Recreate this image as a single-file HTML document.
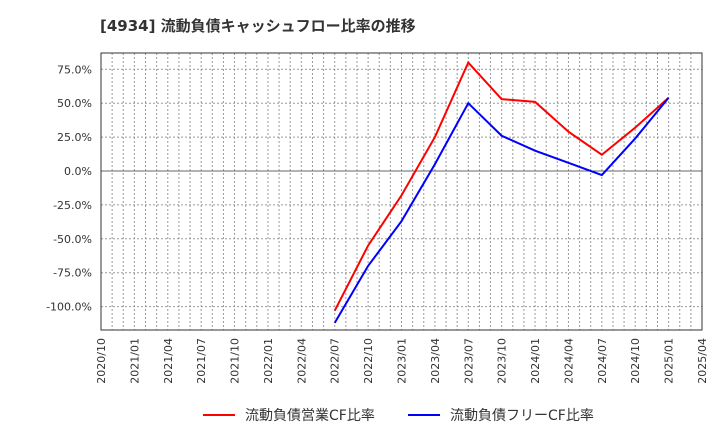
<!DOCTYPE html>
<html><head><meta charset="utf-8"><style>
body{margin:0;background:#fff;width:720px;height:440px;overflow:hidden;font-family:"DejaVu Sans","Noto Sans CJK JP",sans-serif;}
</style></head><body>
<svg width="720" height="440" font-family="DejaVu Sans, Noto Sans CJK JP, sans-serif">
<text x="100" y="31" font-size="15" font-weight="bold" fill="#333">[4934]  流動負債キャッシュフロー比率の推移</text>
<g id="grid"></g><g id="axes"></g><g id="series"></g>
<g font-size="14" fill="#333">
<line x1="203" y1="415" x2="235" y2="415" stroke="#f00" stroke-width="2"/>
<text x="245" y="420">流動負債営業CF比率</text>
<line x1="408" y1="415" x2="440" y2="415" stroke="#00f" stroke-width="2"/>
<text x="450" y="420">流動負債フリーCF比率</text>
</g>
</svg>
<script>
const categories=["2022/07","2022/10","2023/01","2023/04","2023/07","2023/10","2024/01","2024/04","2024/07","2024/10","2025/01"];
const operatingCF=[-103,-55,-18,25,80,53,51,29,12,32,54];
const freeCF=[-112,-70,-37,5,50,26,15,6,-3,24,54];
const yTicks=[75,50,25,0,-25,-50,-75,-100];
const xTickLabels=["2020/10","2021/01","2021/04","2021/07","2021/10","2022/01","2022/04","2022/07","2022/10","2023/01","2023/04","2023/07","2023/10","2024/01","2024/04","2024/07","2024/10","2025/01","2025/04"];
const L=101,R=702,T=53,B=330;
const NS="http://www.w3.org/2000/svg";
function mi(s){const[a,b]=s.split("/").map(Number);return (a-2020)*12+(b-10);}
const totalM=54;
function X(s){return L+mi(s)/totalM*(R-L);}
function Y(v){return 171-v*(33.9/25);}
function mk(t,a,p){const e=document.createElementNS(NS,t);for(const k in a)e.setAttribute(k,a[k]);p.appendChild(e);return e;}
const g=document.getElementById("grid"),ax=document.getElementById("axes"),se=document.getElementById("series");
for(let m=1;m<totalM;m++){const x=L+m/totalM*(R-L);const e=mk("line",{x1:x,x2:x,y1:T,y2:B,stroke:"#999","stroke-dasharray":"2,2","stroke-width":1},g);}
yTicks.forEach(v=>{const y=Y(v);const e=mk("line",{x1:L,x2:R,y1:y,y2:y,stroke:v===0?"#666":"#999","stroke-dasharray":v===0?"":"2,2","stroke-width":1},g);
const t=mk("text",{x:L-9,y:y+4,"text-anchor":"end","font-size":11,fill:"#333"},ax);t.textContent=v.toFixed(1)+"%";});
xTickLabels.forEach(s=>{const x=X(s);const t=mk("text",{transform:`translate(${x+4},${B+8}) rotate(-90)`,"text-anchor":"end","font-size":11,fill:"#333"},ax);t.textContent=s;});
const fr=mk("rect",{x:L,y:T,width:R-L,height:B-T,fill:"none",stroke:"#333","stroke-width":1},ax);
function line(vals,c,n){const p=mk("polyline",{points:vals.map((v,i)=>X(categories[i])+","+Y(v)).join(" "),fill:"none",stroke:c,"stroke-width":2},se);}
line(operatingCF,"#f00","operating-cf-line");
line(freeCF,"#00f","free-cf-line");
</script>
</body></html>
